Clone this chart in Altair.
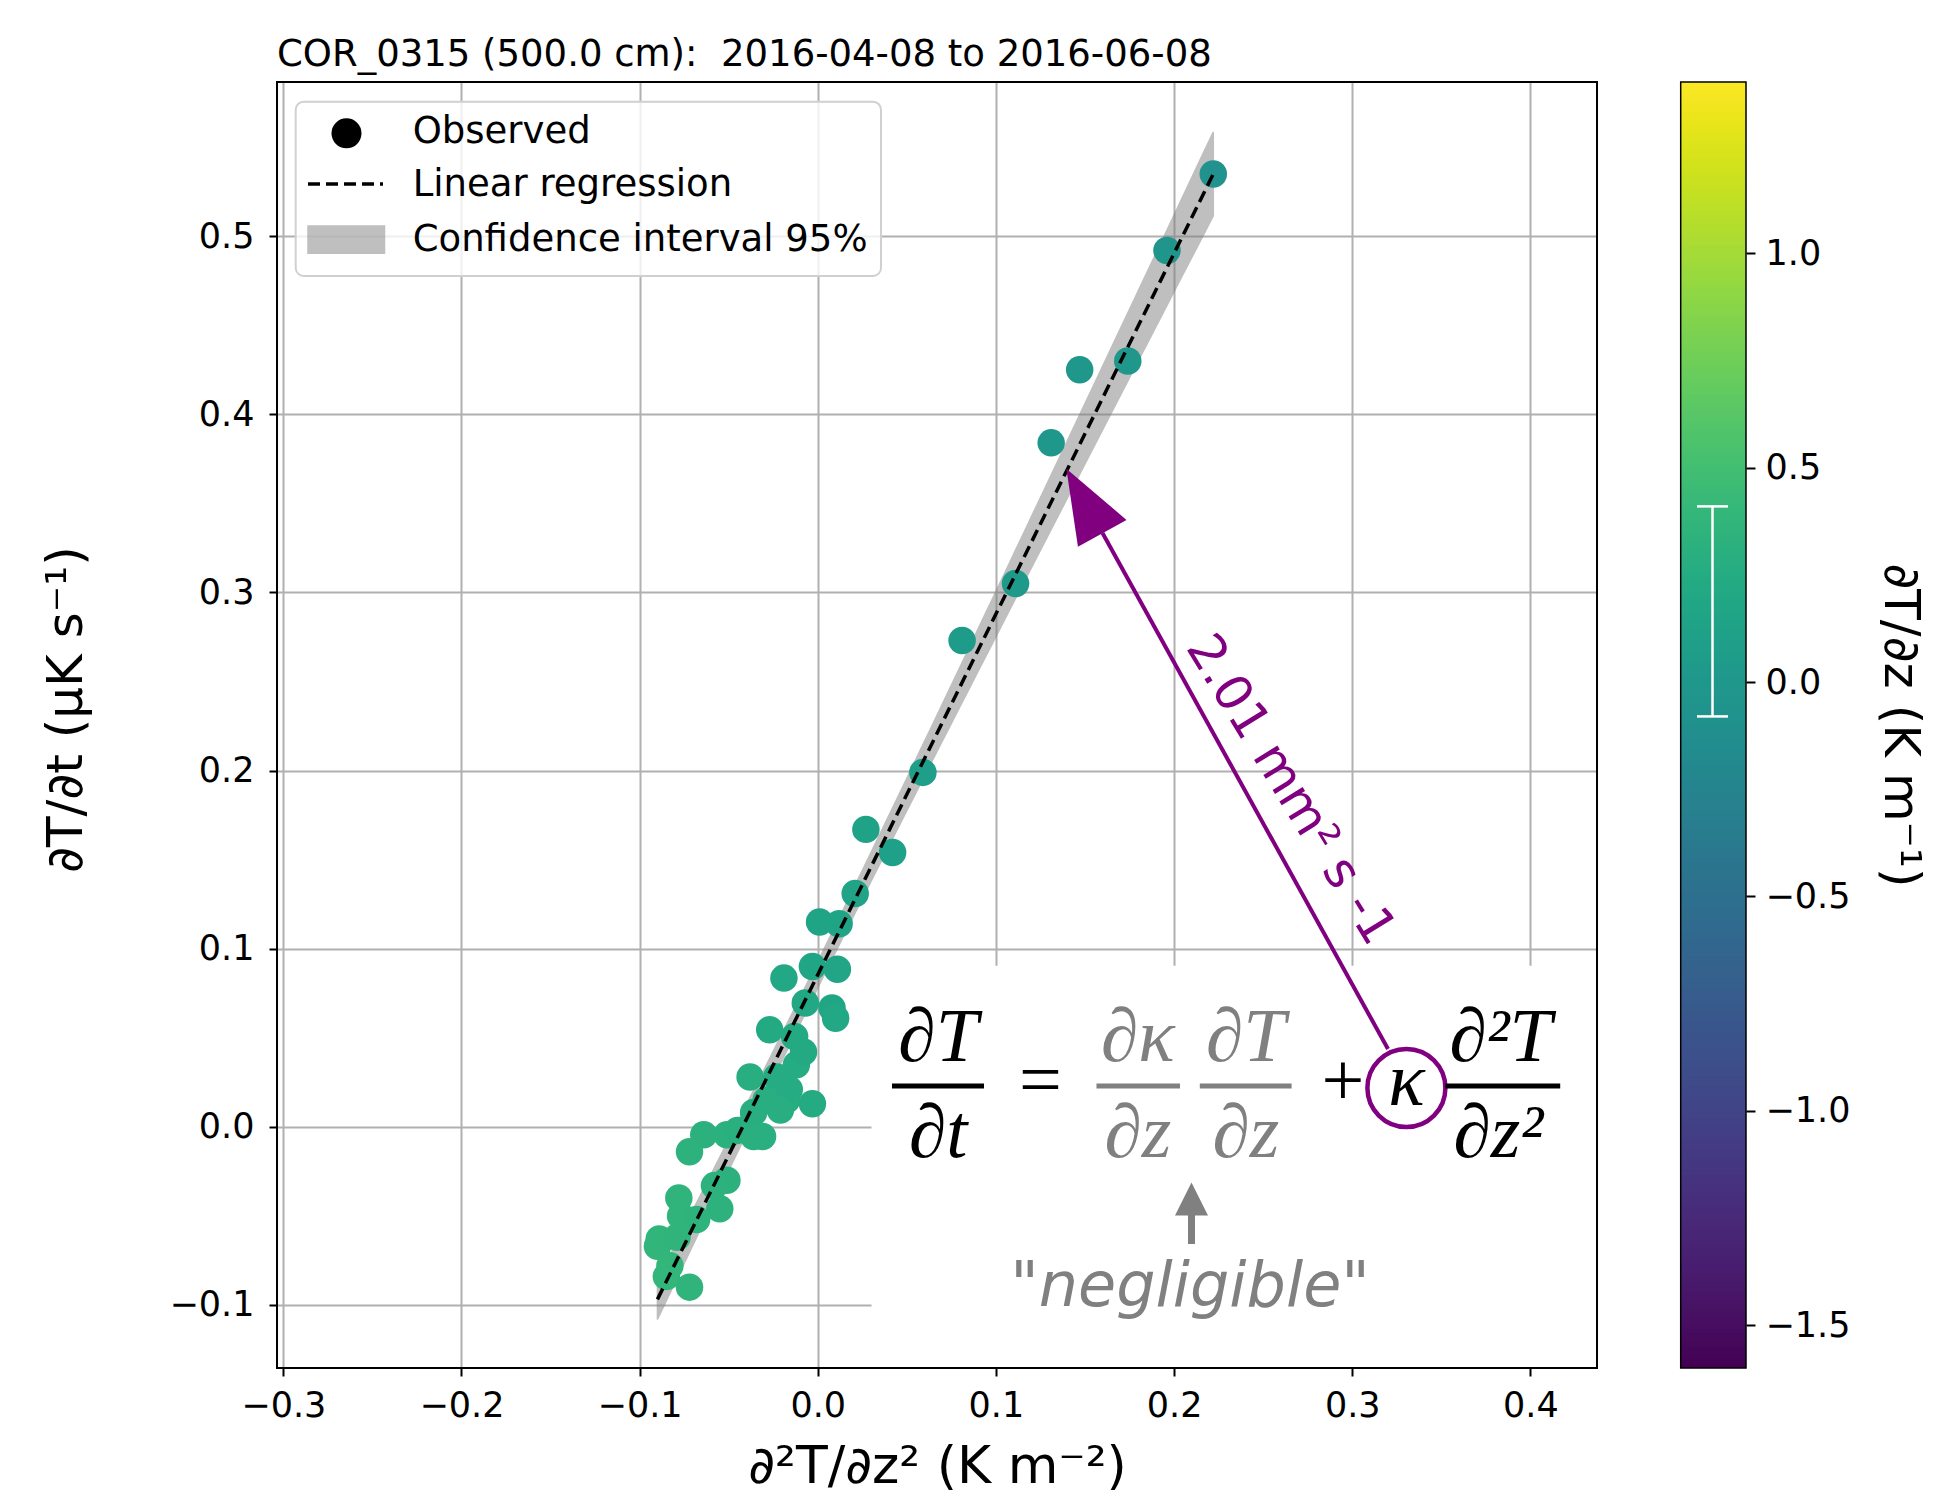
import altair as alt
import numpy as np
import pandas as pd

# ---------------- data ----------------
x_d2Tdz2 = [0.222, 0.196, 0.174, 0.147, 0.131, 0.111, 0.081, 0.059, 0.027, 0.042, 0.021,
            0.001, 0.012, -0.019, -0.003, 0.011, -0.007, 0.008, 0.010, -0.027, -0.013,
            -0.012, -0.038, -0.023, -0.0175, -0.003, -0.029, -0.016, -0.008,
            -0.036, -0.021, -0.064, -0.051, -0.036, -0.031, -0.072, -0.051, -0.055,
            -0.078, -0.077, -0.068, -0.089, -0.090, -0.083, -0.085, -0.072, -0.079,
            -0.045, -0.058]
y_dTdt = [0.535, 0.492, 0.430, 0.425, 0.384, 0.305, 0.273, 0.199, 0.167, 0.154, 0.131,
          0.115, 0.114, 0.0835, 0.090, 0.0885, 0.0695, 0.0667, 0.061, 0.0545, 0.0507,
          0.0348, 0.028, 0.028, 0.015, 0.013, 0.015, 0.021, 0.042,
          0.008, 0.0095, -0.0045, -0.0045, -0.0054, -0.0054, -0.014, -0.030, -0.046,
          -0.040, -0.050, -0.052, -0.063, -0.067, -0.078, -0.084, -0.090, -0.062,
          -0.002, -0.033]
c_dTdz = [-0.08, -0.05, -0.02, -0.02, 0.00, 0.02, 0.04, 0.08, 0.12, 0.10, 0.14,
          0.15, 0.15, 0.20, 0.17, 0.16, 0.20, 0.18, 0.20, 0.23, 0.22,
          0.25, 0.27, 0.25, 0.26, 0.24, 0.27, 0.25, 0.23,
          0.28, 0.27, 0.32, 0.31, 0.30, 0.29, 0.33, 0.32, 0.33,
          0.35, 0.35, 0.34, 0.37, 0.37, 0.38, 0.38, 0.36, 0.36,
          0.30, 0.33]

x_ticks = [-0.3, -0.2, -0.1, 0.0, 0.1, 0.2, 0.3, 0.4]
y_ticks = [-0.1, 0.0, 0.1, 0.2, 0.3, 0.4, 0.5]
cb_ticks = [-1.5, -1.0, -0.5, 0.0, 0.5, 1.0]
cb_domain = [-1.6, 1.4]
cb_spread = [-0.08, 0.41]
x_limits = [-0.30354, 0.43738]
y_limits = [-0.1354, 0.5866]

title_text = "COR_0315 (500.0 cm):\u00a0 2016-04-08 to 2016-06-08"
kappa_label = "2.01 mm\u00b2 s -1"
legend_labels = ["Observed", "Linear regression", "Confidence interval 95%"]

# ---------------- derived tables ----------------
df = pd.DataFrame({"x": x_d2Tdz2, "y": y_dTdt, "c": c_dTdz})

xa = np.array(x_d2Tdz2)
ya = np.array(y_dTdt)
n = len(xa)
slope, icpt = np.polyfit(xa, ya, 1)
resid = ya - (icpt + slope * xa)
s_res = np.sqrt(np.sum(resid ** 2) / (n - 2))
xg = np.linspace(xa.min(), xa.max(), 60)
se = s_res * np.sqrt(1.0 / n + (xg - xa.mean()) ** 2 / np.sum((xa - xa.mean()) ** 2))
t_crit = 2.01
band_df = pd.DataFrame({"x": xg, "lo": icpt + slope * xg - t_crit * se,
                        "hi": icpt + slope * xg + t_crit * se})

cb_vals = np.round(np.arange(cb_domain[0], cb_domain[1], 0.01), 4)
cb_df = pd.DataFrame({"v": cb_vals, "v2": np.minimum(cb_vals + 0.02, cb_domain[1])})
err_df = pd.DataFrame({"lo": [cb_spread[0]], "hi": [cb_spread[1]]})
one = pd.DataFrame({"k": [0]})

# ---------------- layout ----------------
W, H = 1320, 1286
FONT = "DejaVu Sans"
SERIF = "Liberation Serif"
GREY = "#808080"
PURPLE = "#800080"

xs = alt.Scale(domain=x_limits, nice=False, zero=False)
ys = alt.Scale(domain=y_limits, nice=False, zero=False)
cbs = alt.Scale(domain=cb_domain, nice=False, zero=False)
cs = alt.Scale(scheme="viridis", domain=cb_domain)

common_axis = dict(format=".1f", domain=False, tickColor="black", tickWidth=2,
                   labelFontSize=35, labelColor="black", labelFont=FONT,
                   titleFont=FONT, titleFontWeight="normal",
                   titleColor="black", labelFlush=False, labelOverlap=False,
                   titleAlign="center", titleBaseline="middle", zindex=0)

xaxis = alt.Axis(orient="bottom", values=x_ticks, title="\u2202\u00b2T/\u2202z\u00b2 (K m\u207b\u00b2)",
                 grid=True, gridColor="#b0b0b0", gridWidth=2, tickSize=8, labelPadding=12,
                 titleFontSize=52, titleX=660, titleY=98, **common_axis)
yaxis = alt.Axis(orient="left", values=y_ticks, title="\u2202T/\u2202t (\u00b5K s\u207b\u00b9)",
                 grid=True, gridColor="#b0b0b0", gridWidth=2, tickSize=8, labelPadding=15,
                 titleFontSize=50, titleX=-211, titleY=627, titleAngle=270, **common_axis)
cbaxis = alt.Axis(orient="right", offset=149, values=cb_ticks, title="\u2202T/\u2202z (K m\u207b\u00b9)",
                  grid=False, tickSize=9, labelPadding=10,
                  titleFontSize=50, titleX=153, titleY=643, titleAngle=90, **common_axis)


def txt(s, x, y, size, color="black", font=SERIF, style="italic", align="center",
        baseline="alphabetic", angle=None):
    kw = dict(text=s, fontSize=size, color=color, font=font, align=align, baseline=baseline)
    if style != "normal":
        kw["fontStyle"] = style
    if angle is not None:
        kw["angle"] = angle
    return alt.Chart(one).mark_text(**kw).encode(x=alt.value(x), y=alt.value(y))


def seg(x1, x2, y1, y2, color, width, dash=None):
    kw = dict(color=color, strokeWidth=width)
    if dash is not None:
        kw["strokeDash"] = dash
    return alt.Chart(one).mark_rule(**kw).encode(
        x=alt.value(x1), x2=alt.value(x2), y=alt.value(y1), y2=alt.value(y2))


# white patch behind the equation
white = alt.Chart(one).mark_rect(color="white").encode(
    x=alt.value(594.5), x2=alt.value(W), y=alt.value(883.8), y2=alt.value(H))

band = alt.Chart(band_df).mark_area(color=GREY, opacity=0.5, stroke=GREY, strokeWidth=1.5).encode(
    x=alt.X("x:Q", scale=xs, axis=xaxis),
    y=alt.Y("lo:Q", scale=ys, axis=yaxis),
    y2="hi:Q")

pts = alt.Chart(df).mark_circle(size=756, opacity=1).encode(
    x=alt.X("x:Q", scale=xs, axis=xaxis),
    y=alt.Y("y:Q", scale=ys, axis=yaxis),
    color=alt.Color("c:Q", scale=cs, legend=None))

reg = alt.Chart(df).transform_regression("x", "y").mark_line(
    color="black", strokeDash=[12, 6], strokeWidth=3.5).encode(
    x=alt.X("x:Q", scale=xs, axis=xaxis),
    y=alt.Y("y:Q", scale=ys, axis=yaxis))

# purple kappa arrow
arrow_line = seg(1111, 825.5, 967, 451, PURPLE, 4)
arrow_head = alt.Chart(one).mark_point(shape="M0,-1L0.75,1L-0.75,1Z", filled=True, size=5476,
                                       color=PURPLE, opacity=1, angle=331).encode(
    x=alt.value(807.3), y=alt.value(419))
arrow_label = txt(kappa_label, 1013, 708, 50, color=PURPLE, font=FONT, style="normal",
                  baseline="middle", angle=58.5)

# equation
eq = [
    txt("\u2202T", 661, 978.7, 76),
    seg(615, 707, 1004, 1004, "black", 5),
    txt("\u2202t", 661, 1075.3, 76),
    txt("=", 763.4, 1023, 76, style="normal"),
    txt("\u2202\u03ba", 860.8, 978.7, 76, color=GREY),
    seg(819.5, 903, 1004, 1004, GREY, 5),
    txt("\u2202z", 860.8, 1075.3, 76, color=GREY),
    txt("\u2202T", 968.7, 978.7, 76, color=GREY),
    seg(922.8, 1014.6, 1004, 1004, GREY, 5),
    txt("\u2202z", 968.7, 1075.3, 76, color=GREY),
    txt("+", 1066, 1023, 76, style="normal"),
    alt.Chart(one).mark_point(shape="circle", filled=False, size=6084, color=PURPLE,
                              strokeWidth=4.5, opacity=1).encode(
        x=alt.value(1129.4), y=alt.value(1006)),
    txt("\u03ba", 1129.4, 1023, 76),
    txt("\u2202\u00b2T", 1223.5, 978.7, 76),
    seg(1168.4, 1283.2, 1004, 1004, "black", 5),
    txt("\u2202z\u00b2", 1221.2, 1075.3, 76),
    seg(914.5, 914.5, 1162, 1128, GREY, 7),
    alt.Chart(one).mark_point(shape="M0,-1L1,1L-1,1Z", filled=True, size=1089,
                              color=GREY, opacity=1).encode(x=alt.value(914.5), y=alt.value(1117)),
    txt('"negligible"', 913, 1224.4, 62, color=GREY, font=FONT),
]

# legend
legend = [
    alt.Chart(one).mark_rect(fill="white", fillOpacity=0.8, stroke="#d0d0d0", strokeWidth=2,
                             cornerRadius=8).encode(
        x=alt.value(18.7), x2=alt.value(604), y=alt.value(19.7), y2=alt.value(194)),
    alt.Chart(one).mark_circle(size=900, color="black", opacity=1).encode(
        x=alt.value(69.5), y=alt.value(51.3)),
    seg(31, 106, 102, 102, "black", 3.5, dash=[12, 6]),
    alt.Chart(one).mark_rect(color=GREY, opacity=0.5, stroke=GREY, strokeWidth=1.5).encode(
        x=alt.value(31), x2=alt.value(107.5), y=alt.value(144), y2=alt.value(171.3)),
    txt(legend_labels[0], 135.7, 60.7, 37, font=FONT, style="normal", align="left"),
    txt(legend_labels[1], 135.7, 114, 37, font=FONT, style="normal", align="left"),
    txt(legend_labels[2], 135.7, 168.7, 37, font=FONT, style="normal", align="left"),
]

frame = alt.Chart(one).mark_rect(fillOpacity=0, stroke="black", strokeWidth=2).encode(
    x=alt.value(0), x2=alt.value(W), y=alt.value(0), y2=alt.value(H))

main = alt.layer(white, band, pts, reg, arrow_line, arrow_head, *eq, arrow_label, *legend, frame)

# colorbar
cb_rect = alt.Chart(cb_df).mark_rect().encode(
    x=alt.value(1403.7), x2=alt.value(1469),
    y=alt.Y("v:Q", scale=cbs, axis=cbaxis), y2="v2:Q",
    color=alt.Color("v:Q", scale=cs, legend=None))
cb_err = alt.Chart(err_df).mark_rule(color="white", strokeWidth=2.5).encode(
    x=alt.value(1435.5), y=alt.Y("lo:Q", scale=cbs, axis=cbaxis), y2="hi:Q")
cb_caps = alt.Chart(err_df).transform_fold(["lo", "hi"], as_=["k", "val"]).mark_rule(
    color="white", strokeWidth=2.5).encode(
    x=alt.value(1420), x2=alt.value(1451), y=alt.Y("val:Q", scale=cbs, axis=cbaxis))
cb_frame = alt.Chart(one).mark_rect(fillOpacity=0, stroke="black", strokeWidth=1.5).encode(
    x=alt.value(1403.7), x2=alt.value(1469), y=alt.value(0), y2=alt.value(H))
cbar = alt.layer(cb_rect, cb_err, cb_caps, cb_frame)

chart = alt.layer(main, cbar).resolve_scale(y="independent").properties(
    width=W, height=H,
    padding={"left": 277, "top": 82, "right": 343, "bottom": 136},
    autosize=alt.AutoSizeParams(type="none"),
    title=alt.TitleParams(title_text, anchor="start", frame="group", fontSize=37, font=FONT,
                          fontWeight="normal", color="black", offset=7),
).configure(background="white").configure_view(stroke=None)

chart.save("out.html", embed_options={"renderer": "svg", "actions": False})
